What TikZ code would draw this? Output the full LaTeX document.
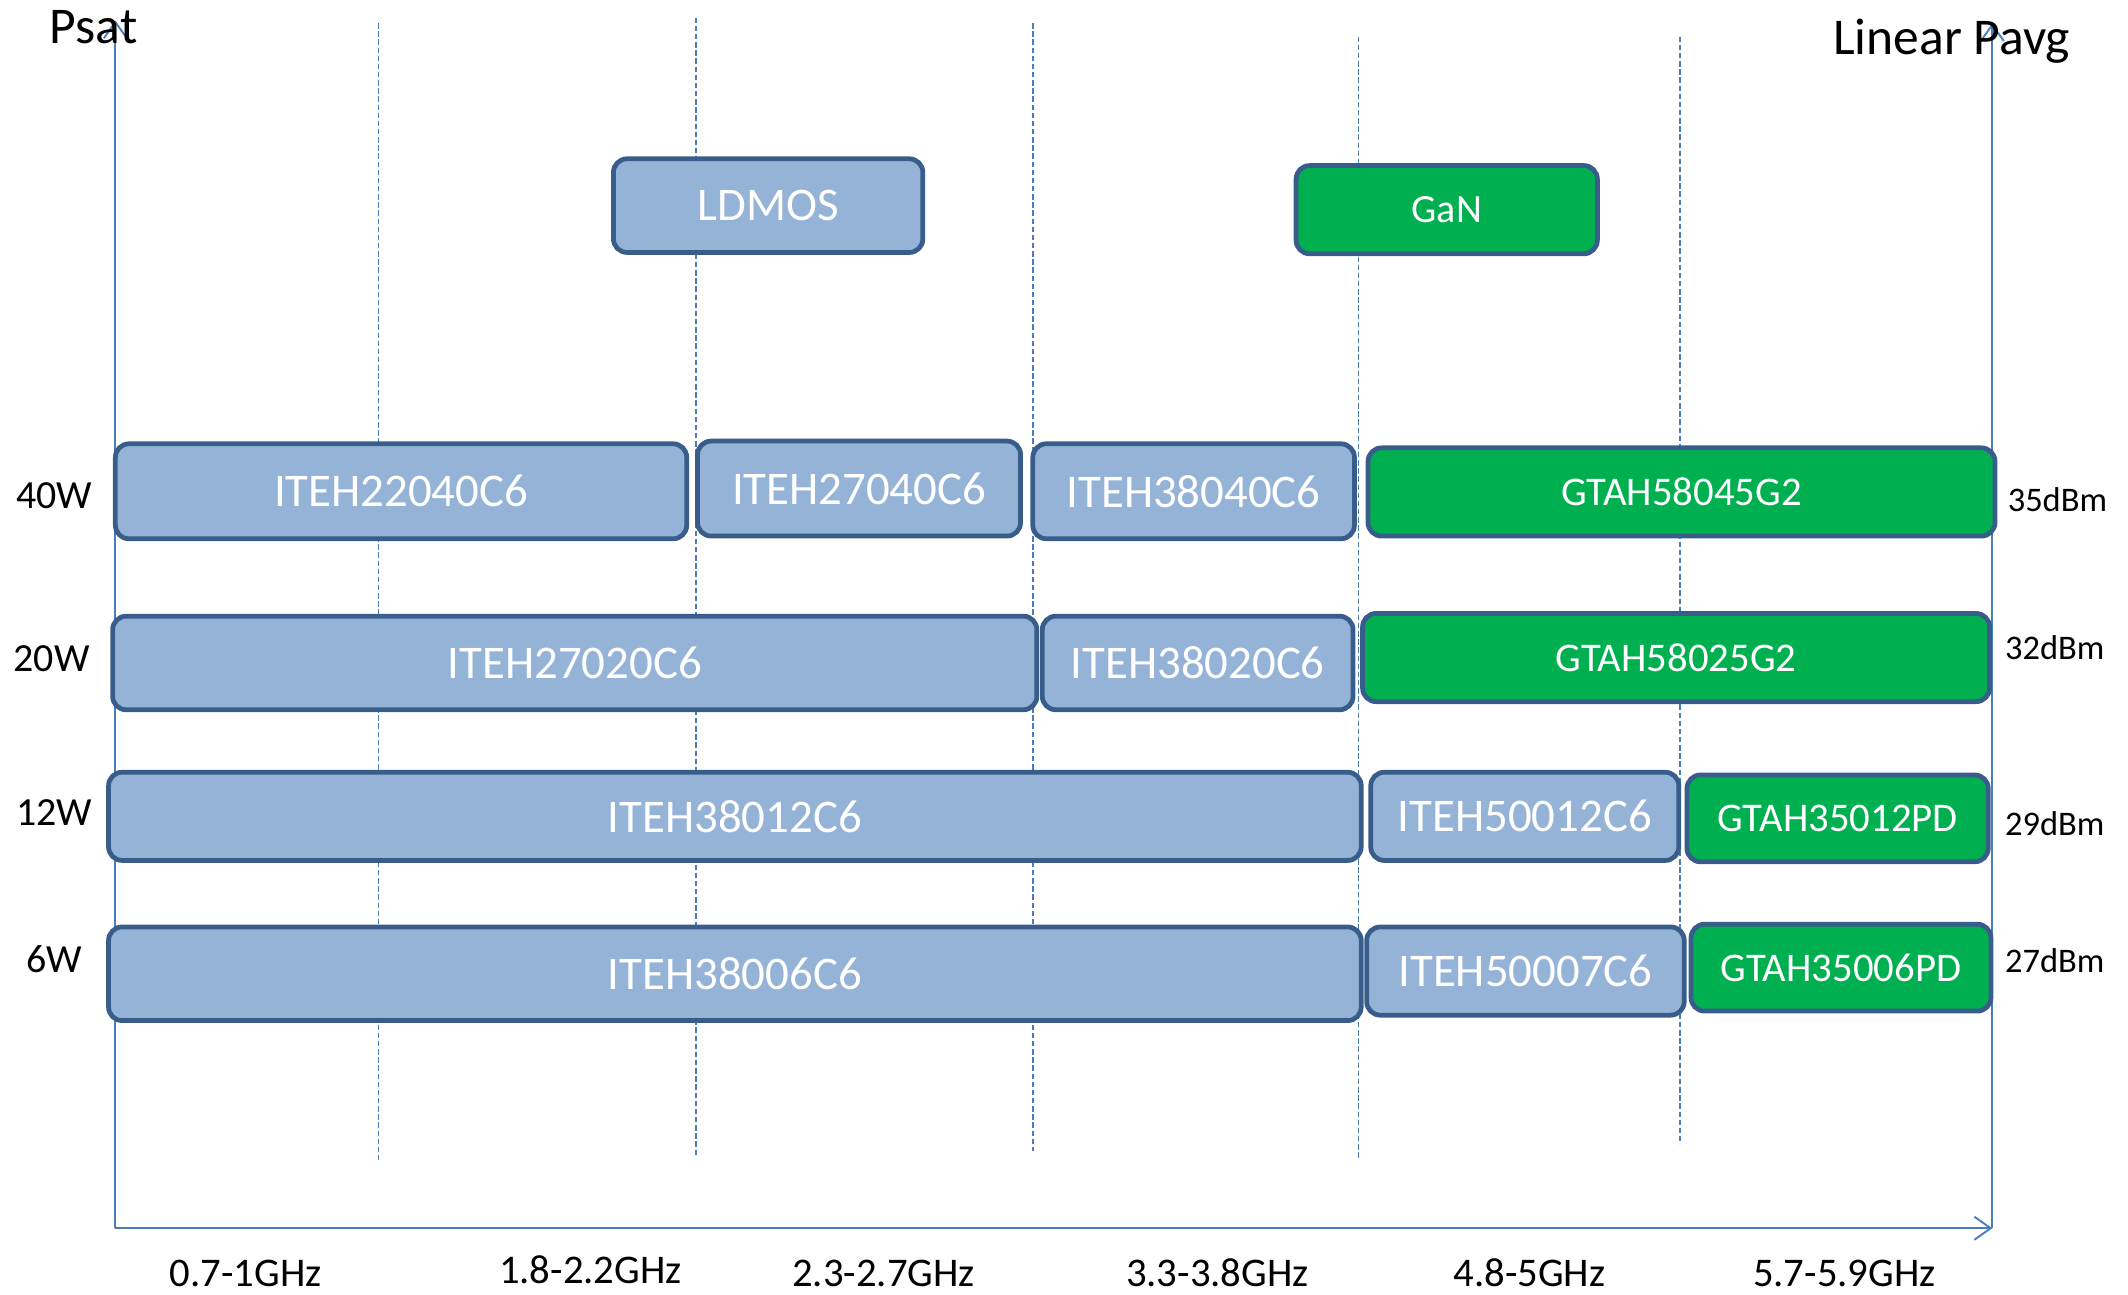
\documentclass[tikz,border=0pt]{standalone}
\usepackage{fontspec}
\setmainfont{Carlito}
\usetikzlibrary{arrows.meta}
\definecolor{boxblue}{RGB}{149,179,215}
\definecolor{boxedge}{RGB}{56,93,138}
\definecolor{gangreen}{RGB}{0,176,80}
\definecolor{axisblue}{RGB}{74,126,187}
\newcommand{\fsz}[1]{\fontsize{#1}{#1}\selectfont}

\begin{document}
\begin{tikzpicture}[x=1pt,y=-1pt,
  every node/.style={inner sep=0pt},
  partbox/.style={draw=boxedge,line width=3.5pt,rounded corners=10pt,text=white,font=\fsz{34.5}},
  ldbox/.style={partbox,fill=boxblue},
  ganbox/.style={partbox,fill=gangreen,font=\fsz{30}},
  axisline/.style={draw=axisblue,line width=1.4pt,-{Straight Barb[length=12pt,width=17pt,line width=1.4pt]}},
  bandline/.style={draw=axisblue,line width=1.1pt,dash pattern=on 4pt off 2pt},
  rowlab/.style={font=\fsz{29.4}},
  dbmlab/.style={font=\fsz{25.4}},
  freqlab/.style={font=\fsz{30},anchor=base}]
  \useasboundingbox (0,0) rectangle (1568,954);

  % band separators
  \foreach \x/\t/\b [count=\i] in {279/17/857,513/13/852,761/17/848,1001/27/853,1238/27/843} {
    \coordinate (bt\i) at (\x,\t); \coordinate (bb\i) at (\x,\b);
    \draw[bandline] (bt\i) -- (bb\i);
  }

  % axes
  \coordinate (origin) at (85,905);
  \coordinate (ltop) at (85,15);
  \coordinate (xend) at (1468,905);
  \coordinate (rtop) at (1468,17);
  \draw[axisline] (origin) -- (ltop);
  \draw[axisline] (xend) -- (rtop);
  \draw[axisline] (origin) -- (xend);

  \node[font=\fsz{38},anchor=base] (psat) at (69,32) {Psat};
  \node[font=\fsz{38},anchor=base] (pavg) at (1438,40) {Linear Pavg};

  % technology
  \node[ldbox,minimum width=228pt,minimum height=69pt] (ldmos) at (566,151.5) {LDMOS};
  \node[ganbox,minimum width=222pt,minimum height=65pt,font=\fsz{29.5}] (gan) at (1066,154.5) {GaN};

  % 40W
  \node[ldbox,minimum width=421pt,minimum height=70pt] (iteh22040) at (295.5,362) {ITEH22040C6};
  \node[ldbox,minimum width=238pt,minimum height=70pt] (iteh27040) at (633,360) {ITEH27040C6};
  \node[ldbox,minimum width=237pt,minimum height=70pt] (iteh38040) at (879.5,362) {ITEH38040C6};
  \node[ganbox,minimum width=462pt,minimum height=65pt] (gtah58045) at (1239,362.5) {GTAH58045G2};
  % 20W
  \node[ldbox,minimum width=681pt,minimum height=69pt] (iteh27020) at (423.5,488.5) {ITEH27020C6};
  \node[ldbox,minimum width=229pt,minimum height=69pt] (iteh38020) at (882.5,488.5) {ITEH38020C6};
  \node[ganbox,minimum width=462pt,minimum height=65pt] (gtah58025) at (1235,484.5) {GTAH58025G2};
  % 12W
  \node[ldbox,minimum width=923pt,minimum height=65pt] (iteh38012) at (541.5,601.5) {ITEH38012C6};
  \node[ldbox,minimum width=227pt,minimum height=65pt] (iteh50012) at (1123.5,601.5) {ITEH50012C6};
  \node[ganbox,minimum width=222pt,minimum height=64pt] (gtah35012) at (1354,603) {GTAH35012PD};
  % 6W
  \node[ldbox,minimum width=923pt,minimum height=69pt] (iteh38006) at (541.5,717.5) {ITEH38006C6};
  \node[ldbox,minimum width=234pt,minimum height=65pt] (iteh50007) at (1124,715.5) {ITEH50007C6};
  \node[ganbox,minimum width=221pt,minimum height=64pt] (gtah35006) at (1356.5,713) {GTAH35006PD};

  % power levels
  \node[rowlab] (p40) at (40,365) {40W};
  \node[rowlab] (p20) at (38,485) {20W};
  \node[rowlab] (p12) at (40,599) {12W};
  \node[rowlab] (p6) at (40,707) {6W};
  \node[dbmlab] (d35) at (1516,368) {35dBm};
  \node[dbmlab] (d32) at (1514,477) {32dBm};
  \node[dbmlab] (d29) at (1514,607) {29dBm};
  \node[dbmlab] (d27) at (1514,708) {27dBm};

  % bands
  \node[freqlab] (f1) at (181,948) {0.7-1GHz};
  \node[freqlab] (f2) at (435,946) {1.8-2.2GHz};
  \node[freqlab] (f3) at (651,948) {2.3-2.7GHz};
  \node[freqlab] (f4) at (897,948) {3.3-3.8GHz};
  \node[freqlab] (f5) at (1127,948) {4.8-5GHz};
  \node[freqlab] (f6) at (1359,948) {5.7-5.9GHz};
\end{tikzpicture}
\end{document}
